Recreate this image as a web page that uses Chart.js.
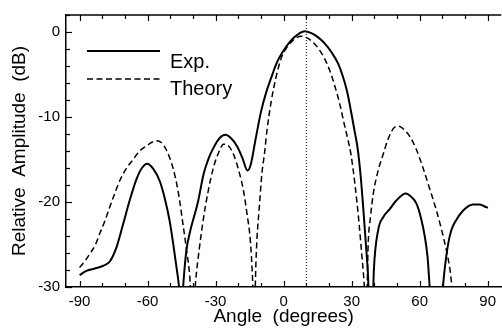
<!DOCTYPE html>
<html>
<head>
<meta charset="utf-8">
<script src="https://cdn.jsdelivr.net/npm/chart.js@4/dist/chart.umd.min.js"></script>
<style>
  html, body { margin: 0; padding: 0; background: #fff; }
  #c { display: block; }
</style>
</head>
<body>
<canvas id="c" width="502" height="328"></canvas>
<script>
var expAngle = [-90, -87, -83, -79.6, -76.7, -73.7, -70.8, -67.9, -64.9, -62.5, -60.2, -57.5, -54.7, -52.5, -50.3, -47.3, -46.2,
  -45.5, -44.8, -44.2, -42.9, -41.1, -37.8, -35.3, -33, -30.9, -28.3, -25.7, -23.2, -20.6, -18.2, -15.9, -14.5, -12.5, -10,
  -7.7, -5.5, -3, -0.3, 2.3, 4.8, 7, 9.2, 12, 15.1, 18, 20.9, 24, 26.1, 28, 29.7, 31.2, 32.7, 34, 35.2, 36.3, 37.2, 37.8,
  39.3, 39.8, 41.7, 43.9, 46.9, 49.8, 53.9, 56.3, 58.6, 60.5, 62.3, 63.5, 64.5,
  65.2, 69.6, 70.1, 71, 72.6, 74, 75.5, 79.2, 83.6, 86.5, 88.5, 90.1];
var expDb = [-28.6, -28.1, -27.8, -27.5, -27.0, -25.3, -22.6, -19.8, -17.3, -16.0, -15.5, -16.1, -17.5, -19.5, -22.2, -27.6, -29.8,
  -32, -32, -29.5, -25.7, -23.3, -20.0, -16.7, -14.8, -13.6, -12.5, -12.1, -12.5, -13.4, -14.8, -16.3, -15.6, -12.8, -9.4,
  -7.1, -5.4, -3.6, -2.3, -1.3, -0.6, -0.15, 0.1, -0.1, -0.6, -1.3, -2.3, -3.7, -5.2, -7.0, -9.3, -11.5, -13.8, -17, -21, -25, -28.5, -32,
  -32, -28, -23.3, -21.8, -20.8, -19.8, -19.0, -19.4, -20.2, -21.8, -24.1, -26.5, -30.2,
  -32, -32, -30.5, -28, -24.9, -23.3, -22.4, -21.0, -20.3, -20.3, -20.5, -20.7];

// theoretical pattern
var theoryAngle = [-90, -87.5, -85.5, -83, -81.1, -78.8, -76.7, -74.5, -72.3, -69.5, -66.4, -63.5, -60.5, -58.3, -56.3, -54,
  -51.5, -48.8, -46.5, -44.4, -42.8, -41.5, -40.5, -39.5, -38.9, -37.2, -35.3, -33.2, -30.9, -28.7, -26.5, -24.3, -22.1,
  -19.9, -17.7, -16.2, -14.7, -13.8, -13.3, -12.8, -12.2, -11.8, -10.7, -9.6, -8.4, -7.4, -5.5, -3.5, -1.1, 1.2, 3.3, 5.5,
  7.7, 10.3, 12.9, 15.5, 18, 20.3, 22.4, 24.7, 26.8, 28.3, 29.7, 31.5, 33.2, 34.5, 35.5, 36,
  36.6, 37.3, 38.3, 39.5, 41.5, 43.9, 45.8, 47.6, 49, 50.8, 53.2,
  55.7, 58.5, 61.5, 64.5, 67.4, 69.7, 71.8, 73.5, 75];
var theoryDb = [-27.7, -26.9, -26.1, -25, -23.7, -22.2, -20.6, -19, -17.5, -16.1, -15.0, -14.0, -13.4, -13.0, -12.8, -13.0,
  -14.0, -16.0, -18.8, -22.6, -25.7, -28.4, -32, -32, -29.6, -25.5, -21.8, -18.6, -15.9, -14.2, -13.2, -13.4, -14.4,
  -16.2, -18.7, -21.3, -24.5, -28.5, -32, -32, -27, -24.5, -20.5, -16.7, -14.2, -11.7, -8.2, -5.5, -3.1, -1.9, -1.2, -0.7,
  -0.5, -0.7, -1.2, -2.0, -3.1, -4.5, -6.2, -8.4, -10.9, -12.6, -14.4, -18, -22.3, -26.3, -29.5, -32,
  -32, -24.9, -21.8, -19.1, -16.5, -14.4, -12.8, -11.7, -11.2, -11.1, -11.5,
  -12.3, -13.8, -16.0, -18.5, -21.0, -23.3, -25.7, -28.2, -32];

var markerAngle = [10, 10];
var markerDb = [-30, 2];

var xTickLabels = [-90, -60, -30, 0, 30, 60, 90];
var yTickLabels = [-30, -20, -10, 0];
var xMinorTicks = [-90, -80, -70, -60, -50, -40, -30, -20, -10, 0, 10, 20, 30, 40, 50, 60, 70, 80, 90];
var yMinorTicks = [-30, -28, -26, -24, -22, -20, -18, -16, -14, -12, -10, -8, -6, -4, -2, 0, 2];

var FONT = '"Liberation Sans", Arial, Helvetica, sans-serif';

function pts(xs, ys) {
  return xs.map(function (x, i) { return { x: x, y: ys[i] }; });
}

// inward ticks on the frame, plus the top edge of the box
var frameTicks = {
  id: 'frameTicks',
  afterDraw: function (chart) {
    var c = chart.ctx, a = chart.chartArea;
    var xs = chart.scales.x, ys = chart.scales.y;
    c.save();
    c.strokeStyle = '#000';
    c.lineWidth = 1.5;
    c.beginPath();
    c.moveTo(a.left, a.top);
    c.lineTo(a.right, a.top);
    c.stroke();
    c.lineWidth = 1.2;
    xMinorTicks.forEach(function (v) {
      var px = Math.round(xs.getPixelForValue(v)) + 0.5;
      var len = v % 30 === 0 ? 6 : 4;
      c.beginPath();
      c.moveTo(px, a.bottom); c.lineTo(px, a.bottom - len);
      c.moveTo(px, a.top); c.lineTo(px, a.top + len);
      c.stroke();
    });
    yMinorTicks.forEach(function (v) {
      var py = Math.round(ys.getPixelForValue(v)) + 0.5;
      var len = v % 10 === 0 ? 6 : 4;
      c.beginPath();
      c.moveTo(a.left, py); c.lineTo(a.left + len, py);
      c.stroke();
    });
    c.restore();
  }
};

// legend drawn in the upper left of the plot
var legendBox = {
  id: 'legendBox',
  afterDraw: function (chart) {
    var c = chart.ctx;
    c.save();
    c.strokeStyle = '#000';
    c.lineWidth = 2;
    c.beginPath(); c.moveTo(87, 51); c.lineTo(160, 51); c.stroke();
    c.lineWidth = 1.5;
    c.setLineDash([6, 3.5]);
    c.beginPath(); c.moveTo(87, 79); c.lineTo(160, 79); c.stroke();
    c.setLineDash([]);
    c.fillStyle = '#000';
    c.font = '20px ' + FONT;
    c.textBaseline = 'alphabetic';
    c.fillText('Exp.', 170, 68);
    c.fillText('Theory', 170, 95);
    c.restore();
  }
};

new Chart(document.getElementById('c'), {
  type: 'line',
  data: {
    datasets: [
      {
        label: 'Exp.',
        data: pts(expAngle, expDb),
        borderColor: '#000',
        borderWidth: 2,
        cubicInterpolationMode: 'monotone'
      },
      {
        label: 'Theory',
        data: pts(theoryAngle, theoryDb),
        borderColor: '#000',
        borderWidth: 1.5,
        borderDash: [6, 3.5],
        cubicInterpolationMode: 'monotone'
      },
      {
        label: 'marker',
        data: pts(markerAngle, markerDb),
        borderColor: '#000',
        borderWidth: 1,
        borderDash: [1, 2]
      }
    ]
  },
  options: {
    responsive: false,
    animation: false,
    layout: { padding: { top: 13, right: 0, left: 0, bottom: 0 } },
    elements: { point: { radius: 0 } },
    plugins: { legend: { display: false }, tooltip: { enabled: false } },
    scales: {
      x: {
        type: 'linear',
        min: -96,
        max: 96,
        afterBuildTicks: function (s) { s.ticks = xTickLabels.map(function (v) { return { value: v }; }); },
        afterFit: function (s) { s.height = 41; },
        grid: { display: false, drawTicks: false },
        border: { display: true, color: '#000', width: 1.5 },
        ticks: { color: '#000', padding: 6, maxRotation: 0, autoSkip: false, font: { family: FONT, size: 15 } },
        title: { display: true, text: 'Angle  (degrees)', color: '#000', padding: 0, font: { family: FONT, size: 19 } }
      },
      y: {
        min: -30,
        max: 2,
        afterBuildTicks: function (s) { s.ticks = yTickLabels.map(function (v) { return { value: v }; }); },
        afterFit: function (s) { s.width = 66; },
        grid: { display: false, drawTicks: false },
        border: { display: true, color: '#000', width: 1.5 },
        ticks: { color: '#000', padding: 6, autoSkip: false, font: { family: FONT, size: 15 } },
        title: { display: true, text: 'Relative  Amplitude  (dB)', color: '#000', padding: { top: 8, bottom: 0 }, font: { family: FONT, size: 19 } }
      }
    }
  },
  plugins: [frameTicks, legendBox]
});
</script>
</body>
</html>
